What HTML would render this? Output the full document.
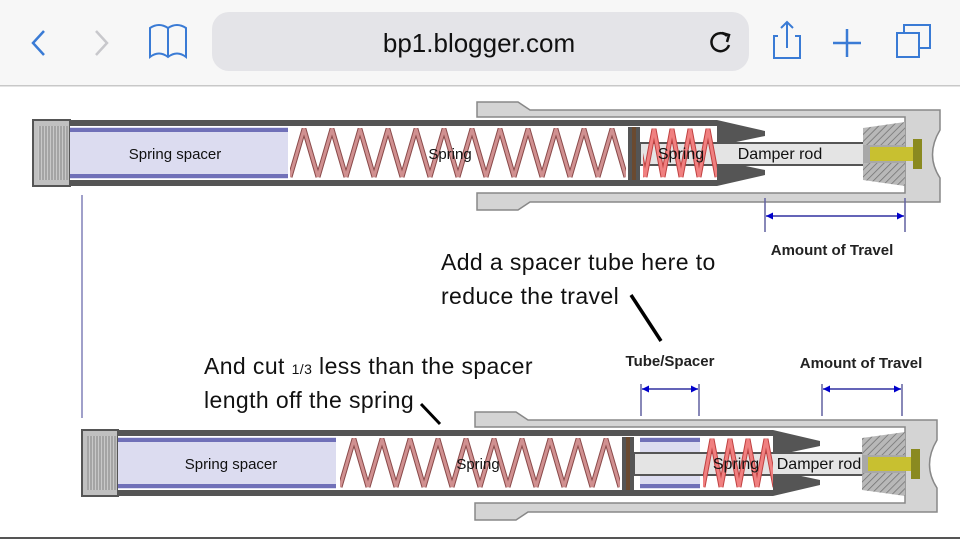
<!DOCTYPE html>
<html><head><meta charset="utf-8"><style>
html,body{margin:0;padding:0;background:#fff;width:960px;height:539px;overflow:hidden}
svg{display:block}
</style></head><body>
<svg width="960" height="539" viewBox="0 0 960 539" xmlns="http://www.w3.org/2000/svg" font-family="Liberation Sans, sans-serif">
<defs>
<pattern id="sp" x="290" y="128" width="28" height="50" patternUnits="userSpaceOnUse">
<path d="M0,49 L14,1 L28,49" fill="none" stroke="#8a4a4a" stroke-width="5"/>
<path d="M0,49 L14,1 L28,49" fill="none" stroke="#d09090" stroke-width="3"/>
</pattern>
<pattern id="sp2" x="340" y="438" width="28" height="50" patternUnits="userSpaceOnUse">
<path d="M0,49 L14,1 L28,49" fill="none" stroke="#8a4a4a" stroke-width="5"/>
<path d="M0,49 L14,1 L28,49" fill="none" stroke="#d09090" stroke-width="3"/>
</pattern>
<pattern id="rs" x="645" y="128" width="18" height="50" patternUnits="userSpaceOnUse">
<path d="M0,49 L9,1 L18,49" fill="none" stroke="#c04040" stroke-width="5"/>
<path d="M0,49 L9,1 L18,49" fill="none" stroke="#f08080" stroke-width="3"/>
</pattern>
<pattern id="rs2" x="703" y="438" width="18" height="50" patternUnits="userSpaceOnUse">
<path d="M0,49 L9,1 L18,49" fill="none" stroke="#c04040" stroke-width="5"/>
<path d="M0,49 L9,1 L18,49" fill="none" stroke="#f08080" stroke-width="3"/>
</pattern>
<pattern id="hatch" width="5" height="5" patternUnits="userSpaceOnUse" patternTransform="rotate(45)">
<rect width="5" height="5" fill="#b8b8b8"/><line x1="0" y1="0" x2="0" y2="5" stroke="#707070" stroke-width="1.5"/>
</pattern>
<pattern id="vh" width="3" height="3" patternUnits="userSpaceOnUse">
<rect width="3" height="3" fill="#c8c8c8"/><line x1="1" y1="0" x2="1" y2="3" stroke="#808080" stroke-width="1"/>
</pattern>
<marker id="ar" viewBox="0 0 10 10" refX="10" refY="5" markerWidth="7" markerHeight="7" markerUnits="userSpaceOnUse" orient="auto-start-reverse">
<path d="M0,0 L10,5 L0,10z" fill="#0000cc"/>
</marker>
</defs>

<!-- browser bar -->
<rect x="0" y="0" width="960" height="85" fill="#f7f7f7"/>
<rect x="0" y="85" width="960" height="1.5" fill="#c8c8c8"/>
<rect x="212" y="12" width="537" height="59" rx="17" fill="#e4e4e8"/>
<text x="479" y="52" font-size="26" text-anchor="middle" fill="#111">bp1.blogger.com</text>
<path d="M44,31 L33,43 L44,55" fill="none" stroke="#3a7bd5" stroke-width="2.5"/>
<path d="M96,31 L107,43 L96,55" fill="none" stroke="#c8c8cc" stroke-width="2.5"/>
<path d="M150,28 L150,57 Q159,50 168,57 Q177,50 186,57 L186,28 Q177,22 168,28 Q159,22 150,28 Z M168,28 L168,57" fill="none" stroke="#3a7bd5" stroke-width="2"/>
<path d="M727,36 A9,9 0 1 0 729,45" fill="none" stroke="#111" stroke-width="2.5"/>
<path d="M722,33 L729,35 L727,42" fill="none" stroke="#111" stroke-width="2.5"/>
<path d="M778,36 L774,36 L774,58 L800,58 L800,36 L795,36 M787,48 L787,22 M781,28 L787,22 L793,28" fill="none" stroke="#3a7bd5" stroke-width="2"/>
<path d="M847,29 L847,57 M833,43 L861,43" stroke="#3a7bd5" stroke-width="2.5"/>
<rect x="897" y="33" width="22" height="24" fill="none" stroke="#3a7bd5" stroke-width="2"/>
<path d="M904,33 L904,25 L930,25 L930,48 L919,48" fill="none" stroke="#3a7bd5" stroke-width="2"/>

<!-- TOP SHOCK -->
<path d="M477,102 L518,102 L530,110 L940,110 L940,130 Q925,155 940,178 L940,202 L530,202 L518,210 L477,210 L477,193 L905,193 L905,117 L477,117 Z" fill="#d4d4d4" stroke="#888" stroke-width="1.5"/>
<rect x="33" y="120" width="684" height="66" fill="#555"/>
<rect x="33" y="120" width="37" height="66" fill="#c0c0c0" stroke="#555" stroke-width="2"/>
<rect x="38" y="126" width="30" height="54" fill="url(#vh)"/>
<rect x="70" y="126" width="647" height="54" fill="#fff"/>
<path d="M717,120 L765,131 L765,136 L717,146 Z M717,186 L765,175 L765,170 L717,160 Z" fill="#555"/>
<rect x="70" y="127" width="218" height="52" fill="#dcdcf0"/>
<rect x="70" y="128" width="218" height="4" fill="#7070b8"/>
<rect x="70" y="174" width="218" height="4" fill="#7070b8"/>
<text x="175" y="159" font-size="15" text-anchor="middle" fill="#111">Spring spacer</text>
<rect x="290" y="128" width="336" height="50" fill="url(#sp)"/>
<text x="450" y="159" font-size="15" text-anchor="middle" fill="#111">Spring</text>
<rect x="628" y="127" width="12" height="53" fill="#555"/>
<rect x="632" y="127" width="4" height="53" fill="#6a4a30"/>
<rect x="640" y="143" width="230" height="22" fill="#e4e4e4" stroke="#555" stroke-width="2"/>
<rect x="643" y="128" width="74" height="50" fill="url(#rs)"/>
<text x="681" y="159" font-size="16" text-anchor="middle" fill="#111">Spring</text>
<text x="780" y="159" font-size="16" text-anchor="middle" fill="#111">Damper rod</text>
<path d="M863,128 L905,122 L905,186 L863,180 Z" fill="url(#hatch)"/>
<rect x="863" y="145" width="42" height="18" fill="#a8a8a8"/>
<rect x="870" y="147" width="45" height="14" fill="#c8c030"/>
<rect x="913" y="139" width="9" height="30" fill="#8a8a20"/>
<!-- travel dim -->
<line x1="765" y1="198" x2="765" y2="232" stroke="#6060a0" stroke-width="1.5"/>
<line x1="905" y1="198" x2="905" y2="232" stroke="#6060a0" stroke-width="1.5"/>
<line x1="766" y1="216" x2="904" y2="216" stroke="#3030a0" stroke-width="1.5" marker-start="url(#ar)" marker-end="url(#ar)"/>
<text x="832" y="255" font-size="15" font-weight="bold" text-anchor="middle" fill="#222">Amount of Travel</text>

<line x1="82" y1="195" x2="82" y2="418" stroke="#8080b8" stroke-width="1.5"/>

<!-- annotations -->
<text x="441" y="270" font-size="23" letter-spacing="0.4" fill="#111">Add a spacer tube here to</text>
<text x="441" y="304" font-size="23" letter-spacing="0.4" fill="#111">reduce the travel</text>
<line x1="631" y1="295" x2="661" y2="341" stroke="#000" stroke-width="3.5"/>
<text x="204" y="374" font-size="23" letter-spacing="0.4" fill="#111">And cut <tspan font-size="14">1/3</tspan> less than the spacer</text>
<text x="204" y="408" font-size="23" letter-spacing="0.4" fill="#111">length off the spring</text>
<line x1="421" y1="404" x2="440" y2="424" stroke="#000" stroke-width="3"/>
<text x="670" y="366" font-size="15" font-weight="bold" text-anchor="middle" fill="#222">Tube/Spacer</text>
<text x="861" y="368" font-size="15" font-weight="bold" text-anchor="middle" fill="#222">Amount of Travel</text>
<line x1="641" y1="384" x2="641" y2="416" stroke="#6060a0" stroke-width="1.5"/>
<line x1="699" y1="384" x2="699" y2="416" stroke="#6060a0" stroke-width="1.5"/>
<line x1="642" y1="389" x2="698" y2="389" stroke="#3030a0" stroke-width="1.5" marker-start="url(#ar)" marker-end="url(#ar)"/>
<line x1="822" y1="384" x2="822" y2="416" stroke="#6060a0" stroke-width="1.5"/>
<line x1="902" y1="384" x2="902" y2="416" stroke="#6060a0" stroke-width="1.5"/>
<line x1="823" y1="389" x2="901" y2="389" stroke="#3030a0" stroke-width="1.5" marker-start="url(#ar)" marker-end="url(#ar)"/>

<!-- BOTTOM SHOCK -->
<path d="M475,412 L516,412 L528,420 L937,420 L937,440 Q922,465 937,488 L937,512 L528,512 L516,520 L475,520 L475,503 L905,503 L905,427 L475,427 Z" fill="#d4d4d4" stroke="#888" stroke-width="1.5"/>
<rect x="82" y="430" width="691" height="66" fill="#555"/>
<rect x="82" y="430" width="36" height="66" fill="#c0c0c0" stroke="#555" stroke-width="2"/>
<rect x="87" y="436" width="29" height="54" fill="url(#vh)"/>
<rect x="118" y="436" width="655" height="54" fill="#fff"/>
<path d="M773,430 L820,441 L820,446 L773,456 Z M773,496 L820,485 L820,480 L773,470 Z" fill="#555"/>
<rect x="118" y="437" width="218" height="52" fill="#dcdcf0"/>
<rect x="118" y="438" width="218" height="4" fill="#7070b8"/>
<rect x="118" y="484" width="218" height="4" fill="#7070b8"/>
<text x="231" y="469" font-size="15" text-anchor="middle" fill="#111">Spring spacer</text>
<rect x="340" y="438" width="280" height="50" fill="url(#sp2)"/>
<text x="478" y="469" font-size="15" text-anchor="middle" fill="#111">Spring</text>
<rect x="622" y="437" width="12" height="53" fill="#555"/>
<rect x="626" y="437" width="4" height="53" fill="#6a4a30"/>
<rect x="640" y="437" width="60" height="52" fill="#dcdcf0"/>
<rect x="640" y="438" width="60" height="4" fill="#7070b8"/>
<rect x="640" y="484" width="60" height="4" fill="#7070b8"/>
<rect x="634" y="453" width="236" height="22" fill="#e4e4e4" stroke="#555" stroke-width="2"/>
<rect x="703" y="438" width="70" height="50" fill="url(#rs2)"/>
<text x="736" y="469" font-size="16" text-anchor="middle" fill="#111">Spring</text>
<text x="819" y="469" font-size="16" text-anchor="middle" fill="#111">Damper rod</text>
<path d="M862,438 L905,432 L905,496 L862,490 Z" fill="url(#hatch)"/>
<rect x="862" y="455" width="43" height="18" fill="#a8a8a8"/>
<rect x="868" y="457" width="45" height="14" fill="#c8c030"/>
<rect x="911" y="449" width="9" height="30" fill="#8a8a20"/>
<rect x="0" y="537" width="960" height="2" fill="#555"/>
</svg>
</body></html>
